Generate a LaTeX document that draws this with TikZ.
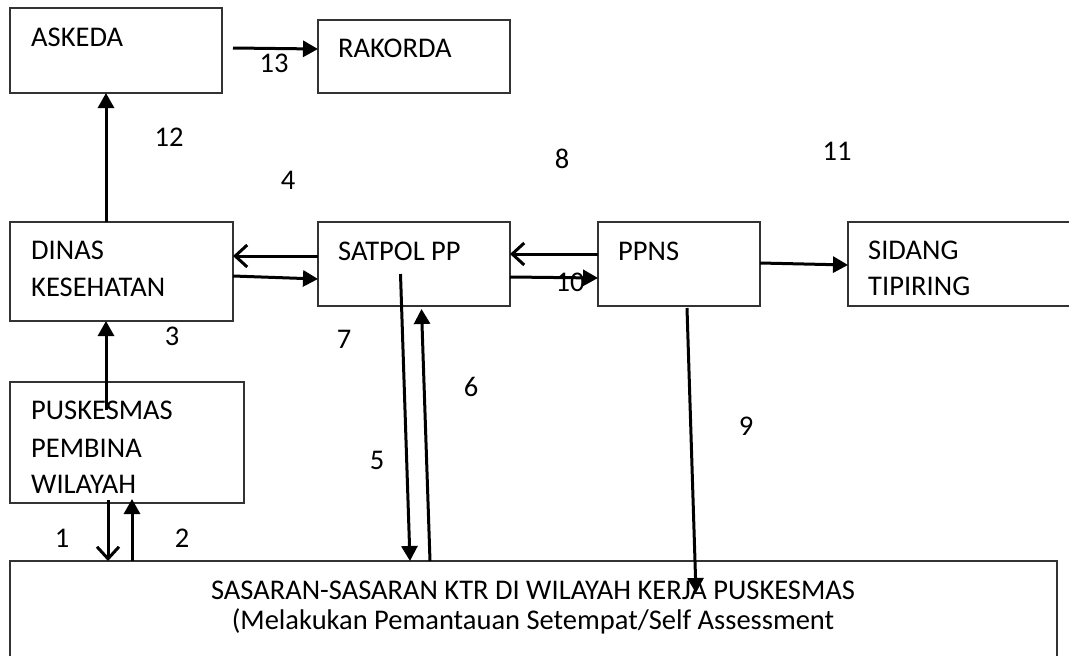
\documentclass[tikz,border=0pt]{standalone}
\usepackage{fontspec}
\setmainfont{Carlito}
\usetikzlibrary{arrows.meta,calc}
\begin{document}
\begin{tikzpicture}[x=1pt,y=-1pt,
  box/.style={draw=black!80,line width=1.2pt,anchor=north west,inner sep=0pt,outer sep=0pt},
  txt/.style={anchor=base west,inner sep=0pt,font=\fontsize{28.5}{35.7}\selectfont},
  ctxt/.style={anchor=base,inner sep=0pt,font=\fontsize{28.5}{35.7}\selectfont},
  num/.style={inner sep=0pt,font=\fontsize{28.5}{35.7}\selectfont},
  fa/.style={line width=3pt,-{Triangle[length=15pt,width=16pt]}},
  oa/.style={line width=3pt,-{Straight Barb[length=12pt,width=22pt]}}]
\useasboundingbox (0,0) rectangle (1069,656);
\fill[white] (0,0) rectangle (1069,656);
% boxes
\node[box,minimum width=212pt,minimum height=85pt] (askeda) at (10,8) {};
\node[box,minimum width=192pt,minimum height=73pt] (rakorda) at (318,20) {};
\node[box,minimum width=223pt,minimum height=99pt] (dinas) at (10,222) {};
\node[box,minimum width=192pt,minimum height=84pt] (satpol) at (318,222) {};
\node[box,minimum width=162pt,minimum height=84pt] (ppns) at (598,222) {};
\node[box,minimum width=240pt,minimum height=84pt] (sidang) at (848,222) {};
\node[box,minimum width=234pt,minimum height=121pt] (pusk) at (10,382) {};
\node[box,minimum width=1047pt,minimum height=130pt] (sasaran) at (10,561) {};
% box texts
\node[txt] (tAskeda) at (31,46) {ASKEDA};
\node[txt] (tRakorda) at (338,57) {RAKORDA};
\node[txt] (tDinas1) at (31,259) {DINAS};
\node[txt] (tDinas2) at (31,296) {KESEHATAN};
\node[txt] (tSatpol) at (338,260) {SATPOL PP};
\node[txt] (tPpns) at (618,260) {PPNS};
\node[txt] (tSidang1) at (868,259) {SIDANG};
\node[txt] (tSidang2) at (868,295) {TIPIRING};
\node[txt] (tPusk1) at (31,419) {PUSKESMAS};
\node[txt] (tPusk2) at (31,457) {PEMBINA};
\node[txt] (tPusk3) at (31,493) {WILAYAH};
\node[ctxt] (tSas1) at (533,599) {SASARAN-SASARAN KTR DI WILAYAH KERJA PUSKESMAS};
\node[ctxt] (tSas2) at (533,629) {(Melakukan Pemantauan Setempat/Self Assessment};
% connectors
\draw[fa] ($(askeda.north east)+(11,40)$) -- ($(rakorda.north west)+(0,29)$);
\draw[fa] ($(dinas.north west)+(96,0)$) -- ($(askeda.south west)+(96,0)$);
\draw[oa] ($(satpol.north west)+(0,34)$) -- ($(dinas.north east)+(0,34)$);
\draw[fa] ($(dinas.north east)+(0,54)$) -- ($(satpol.north west)+(0,57)$);
\draw[oa] ($(ppns.north west)+(0,32)$) -- ($(satpol.north east)+(0,32)$);
\draw[fa] ($(satpol.north east)+(0,55)$) -- ($(ppns.north west)+(0,56)$);
\draw[fa] ($(ppns.north east)+(0,41)$) -- ($(sidang.north west)+(0,43)$);
\draw[fa] ($(pusk.north west)+(96,28)$) -- ($(dinas.south west)+(96,0)$);
\draw[fa] ($(satpol.north west)+(82.5,52)$) -- ($(sasaran.north west)+(400,0)$);
\draw[fa] ($(sasaran.north west)+(420,0)$) -- ($(satpol.south west)+(103.5,3)$);
\draw[fa] ($(ppns.south west)+(89,2)$) -- ($(sasaran.north west)+(686,32)$);
\draw[oa] ($(pusk.south west)+(98,-3)$) -- ($(sasaran.north west)+(98,0)$);
\draw[fa] ($(sasaran.north west)+(122,0)$) -- ($(pusk.south west)+(122,-4)$);
% numbers
\node[num] (n1) at (62,538) {1};
\node[num] (n2) at (182,538) {2};
\node[num] (n3) at (172,336) {3};
\node[num] (n4) at (288,180) {4};
\node[num] (n5) at (377,460) {5};
\node[num] (n6) at (471,387) {6};
\node[num] (n7) at (344,339) {7};
\node[num] (n8) at (562,159) {8};
\node[num] (n9) at (746,426) {9};
\node[num] (n10) at (570,282) {10};
\node[num] (n11) at (837,151) {11};
\node[num] (n12) at (169,137) {12};
\node[num] (n13) at (274,63) {13};
\end{tikzpicture}
\end{document}
